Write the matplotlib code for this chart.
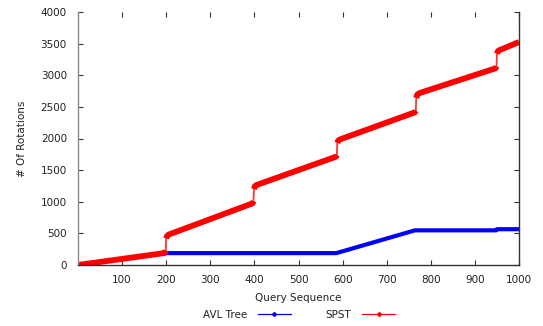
import matplotlib
matplotlib.use("Agg")
import matplotlib.pyplot as plt
from matplotlib.lines import Line2D

# rotation counts per query, vertices of each curve
avl_x = [0, 196, 586, 764, 948, 950, 1000]
avl_y = [0, 188, 188, 548, 548, 566, 566]

spst_x = [0, 197, 199, 200, 202, 206,
          396, 398, 399, 401, 405,
          585, 587, 588, 590, 594,
          764, 766, 767, 769, 773,
          947, 949, 950, 952, 956,
          1000]
spst_y = [0, 190, 230, 420, 460, 482,
          975, 1010, 1200, 1245, 1265,
          1712, 1740, 1930, 1965, 1985,
          2414, 2440, 2640, 2690, 2715,
          3110, 3140, 3340, 3380, 3398,
          3525]

x_ticks = [100, 200, 300, 400, 500, 600, 700, 800, 900, 1000]
y_ticks = [0, 500, 1000, 1500, 2000, 2500, 3000, 3500, 4000]

txt = '#222222'
plt.rcParams['font.family'] = 'DejaVu Sans'

fig = plt.figure(figsize=(5.43, 3.26), dpi=100)
ax = fig.add_axes([78/543, 1 - 265/326, (519 - 78)/543, (265 - 12)/326])


def draw_curve(xs, ys, color, lw):
    # steep jumps (few points between them) come out as a thin connector,
    # the rest is drawn as thick continuous runs
    run = [0]
    for i in range(len(xs) - 1):
        dx = xs[i + 1] - xs[i]
        dy = ys[i + 1] - ys[i]
        if dx > 0 and dy / dx > 60:
            if len(run) > 1:
                ax.plot([xs[j] for j in run], [ys[j] for j in run], color=color, lw=lw,
                        solid_capstyle='butt', solid_joinstyle='round')
            ax.plot(xs[i:i + 2], ys[i:i + 2], color=color, lw=1.3, alpha=0.8)
            run = [i + 1]
        else:
            run.append(i + 1)
    if len(run) > 1:
        ax.plot([xs[j] for j in run], [ys[j] for j in run], color=color, lw=lw,
                solid_capstyle='butt', solid_joinstyle='round')


draw_curve(avl_x, avl_y, '#0000ff', 3.0)
draw_curve(spst_x, spst_y, '#ff0000', 4.2)

ax.set_xlim(0, 1000)
ax.set_ylim(0, 4000)
ax.set_xticks(x_ticks)
ax.set_yticks(y_ticks)

ax.spines['top'].set_visible(False)
ax.spines['left'].set_color('#888888')
ax.spines['bottom'].set_color('#333333')
ax.spines['right'].set_color('#333333')
for s in ax.spines.values():
    s.set_linewidth(1.0)

ax.tick_params(direction='in', length=3.5, width=0.8, color='#333333',
               labelsize=7.5, labelcolor=txt, top=True, right=True)
ax.tick_params(axis='y', pad=8)
ax.tick_params(axis='x', pad=7)

ax.set_xlabel('Query Sequence', fontsize=7.5, color=txt, labelpad=6)
ax.set_ylabel('# Of Rotations', fontsize=7.5, color=txt, labelpad=10)

handles = [
    Line2D([], [], color='#0000ff', lw=0.9, marker='D', ms=2),
    Line2D([], [], color='#ff0000', lw=0.9, marker='D', ms=2),
]
fig.legend(handles, ['AVL Tree', 'SPST'], loc='center', bbox_to_anchor=(299/543, 1 - 315/326),
           ncol=2, frameon=False, markerfirst=False, fontsize=7.5, labelcolor=txt,
           handlelength=3.2, columnspacing=3.3, handletextpad=1.05)

fig.savefig('out.png', dpi=100)
